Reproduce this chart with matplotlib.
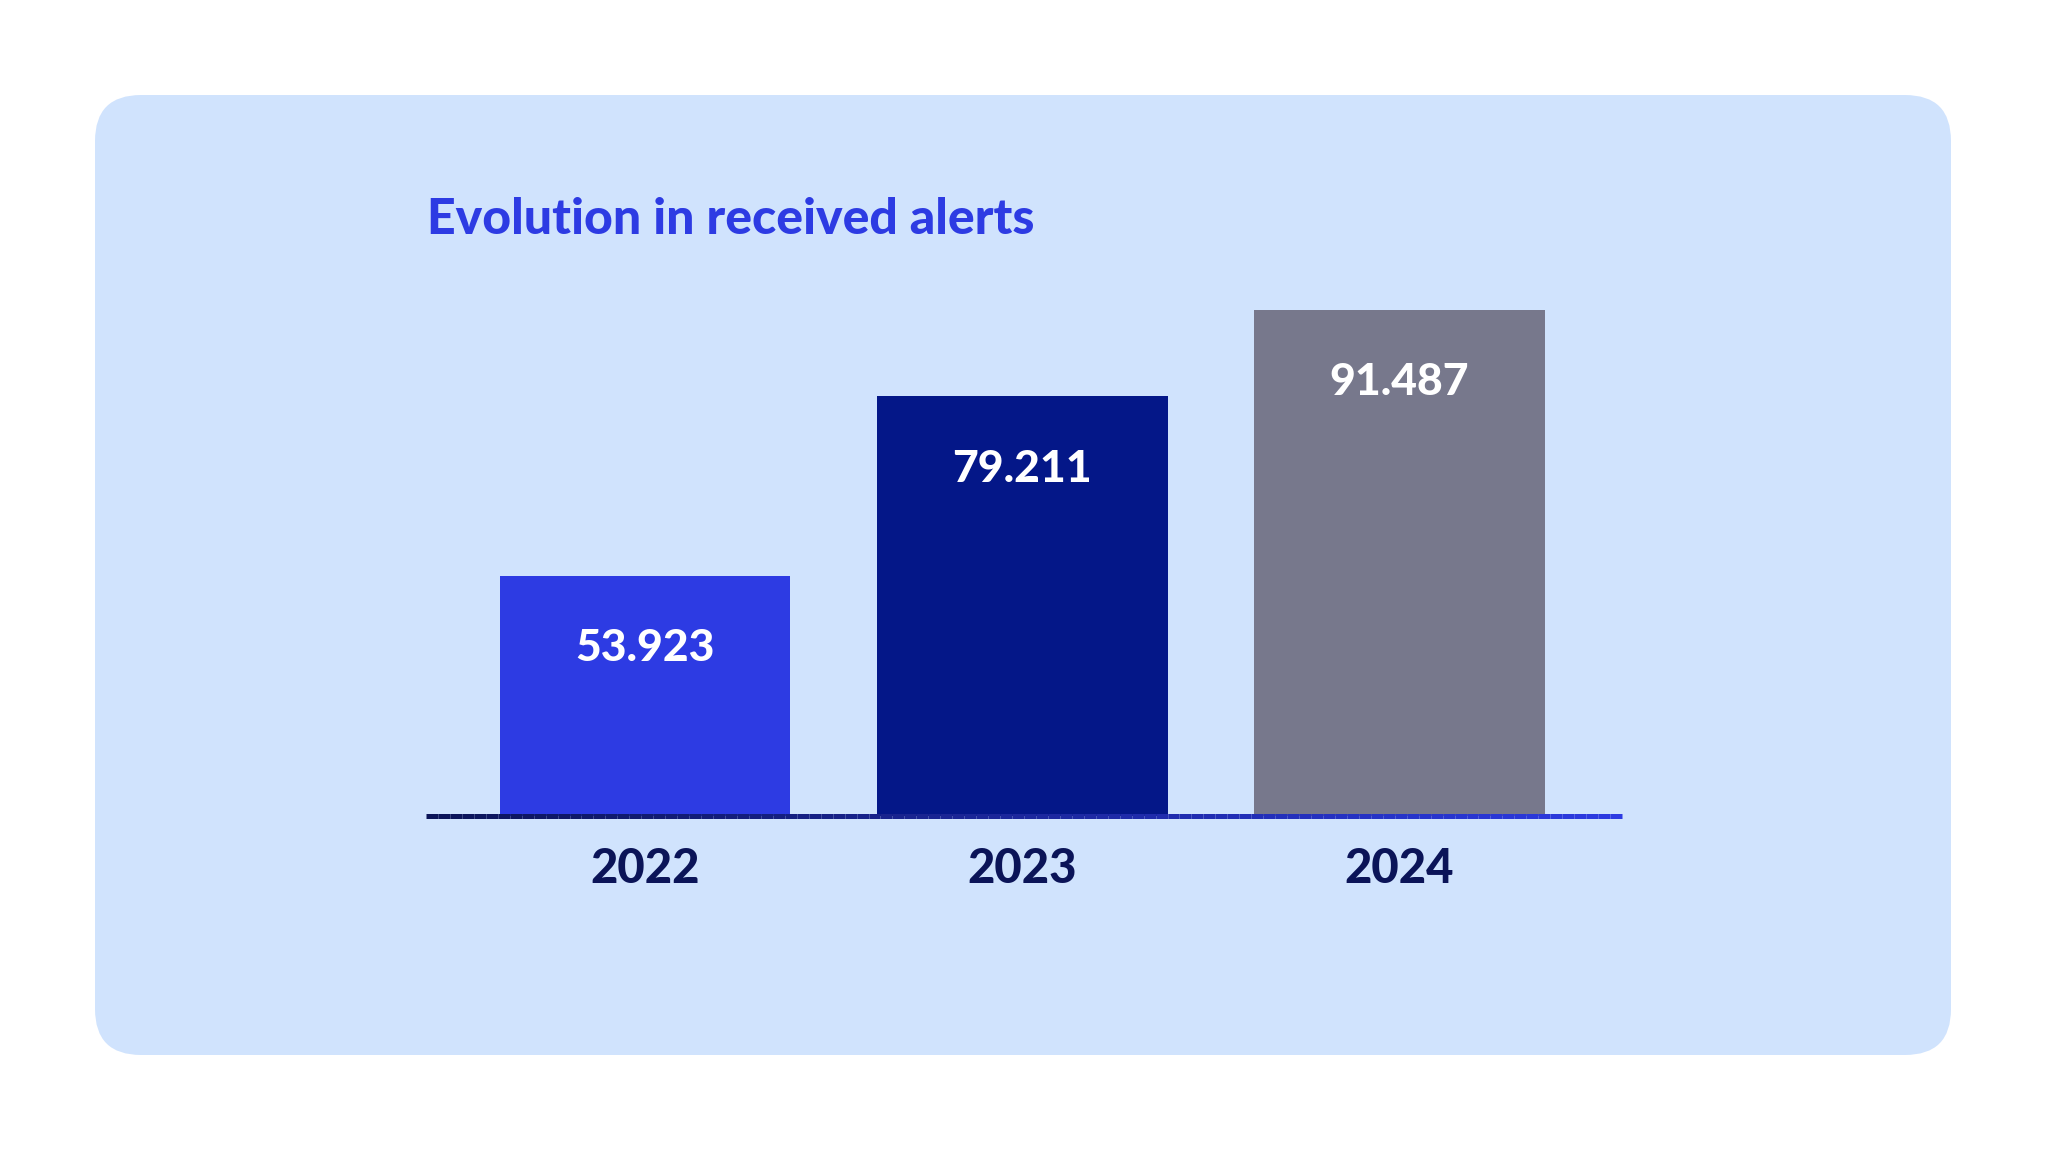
import matplotlib
matplotlib.use("Agg")
import matplotlib.pyplot as plt
from matplotlib.patches import FancyBboxPatch
from matplotlib.collections import LineCollection
import matplotlib.colors as mcolors
import numpy as np

years = ["2022", "2023", "2024"]
alerts = [53923, 79211, 91487]
labels = ["53.923", "79.211", "91.487"]
colors = ["#2d3be3", "#041788", "#77788c"]
title = "Evolution in received alerts"

FONT = "Lato"
fig = plt.figure(figsize=(20.48, 11.52), dpi=100)
fig.patch.set_facecolor("white")

bg = fig.add_axes([0, 0, 1, 1])
bg.set_xlim(0, 2048); bg.set_ylim(0, 1152); bg.axis("off")
bg.add_patch(FancyBboxPatch((95, 1152 - 1055), 1856, 960,
                            boxstyle="round,pad=0,rounding_size=46",
                            fc="#d0e3fd", ec="none"))
fig.text(427 / 2048, 1 - 219 / 1152, title, fontsize=36, fontweight="black",
         color="#2d3be3", family=FONT, va="center", ha="left")

ax = fig.add_axes([426 / 2048, 1 - 816 / 1152, 1196 / 2048, 506.5 / 1152])
ax.patch.set_alpha(0)
ax.axis("off")
x = np.arange(len(years))
ax.set_xlim(-0.581, 2.59)
ax.set_ylim(20000, 91487)
ax.bar(x, alerts, width=0.77, color=colors, bottom=0, zorder=2)

for xi, v, lab in zip(x, alerts, labels):
    ax.annotate(lab, (xi, v), xytext=(0, -52), textcoords="offset points",
                ha="center", va="center", fontsize=32, fontweight="black",
                color="white", family=FONT, zorder=3)
    ax.annotate(years[xi], (xi, 20000), xytext=(0, -38), textcoords="offset points",
                ha="center", va="center", fontsize=34, fontweight="black",
                color="#0b1458", family=FONT, annotation_clip=False)

# gradient baseline
n = 100
xs = np.linspace(-0.581, 2.59, n + 1)
segs = [[(xs[i], 20000), (xs[i + 1], 20000)] for i in range(n)]
cmap = mcolors.LinearSegmentedColormap.from_list("g", ["#0b1458", "#2d3be3"])
lc = LineCollection(segs, colors=[cmap(i / n) for i in range(n)], linewidths=3.6,
                    zorder=4, clip_on=False)
ax.add_collection(lc)

fig.savefig("out.png", dpi=100)
